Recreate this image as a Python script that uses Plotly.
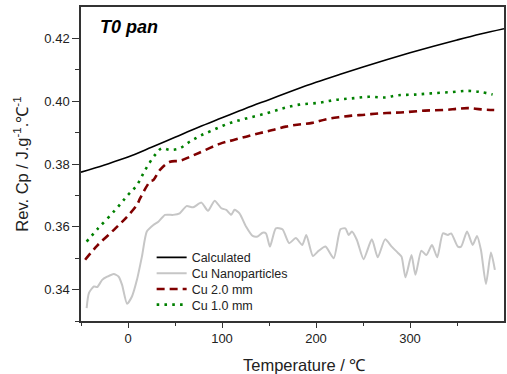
import plotly.graph_objects as go

# Calculated
calc_x = [-50, -25, 0, 25, 50, 75, 100, 125, 150, 175, 200, 225, 250, 275, 300, 325, 350, 375, 400]
calc_y = [0.3774, 0.3797, 0.3822, 0.3853, 0.3885, 0.3917, 0.3947, 0.3977, 0.4005, 0.4033, 0.4060,
          0.4085, 0.4109, 0.4132, 0.4154, 0.4175, 0.4195, 0.4214, 0.4231]

# Cu Nanoparticles
nano_x = [-44, -41.6, -36.3, -32.7, -27.5, -22.2, -15.2, -9.9, -6.3, -1, 4.2, 9.5, 14.8, 20, 27, 32.3,
          39.4, 48, 55, 62.3, 69.3, 78.1, 85.1, 92.2, 99.3, 104.5, 109.8, 113.3, 118.6, 125.7, 132.6,
          137.9, 143.2, 146.8, 151, 157.3, 164.3, 171.4, 178.5, 185.4, 189.7, 196.7, 203, 210.1, 218.9,
          226, 231.3, 234.7, 238.2, 243.5, 250.6, 259.4, 265.7, 273.5, 280.5, 287.5, 291, 295.2, 301.6,
          305.8, 312.1, 317.4, 323.4, 329, 335, 340.3, 343.8, 350.9, 354.4, 360.7, 366.7, 371.3, 375.5,
          380.8, 386.1, 390.3]
nano_y = [0.3341, 0.3389, 0.3410, 0.3408, 0.3431, 0.3441, 0.3450, 0.3441, 0.3415, 0.3355, 0.3378,
          0.3431, 0.3505, 0.3585, 0.3606, 0.3616, 0.3638, 0.3638, 0.3643, 0.3666, 0.3662, 0.3677,
          0.3651, 0.3683, 0.3659, 0.3654, 0.3638, 0.3654, 0.3643, 0.3600, 0.3571, 0.3569, 0.3581,
          0.3579, 0.3537, 0.3595, 0.3592, 0.3548, 0.3564, 0.3542, 0.3574, 0.3507, 0.3524, 0.3537,
          0.3500, 0.3592, 0.3595, 0.3574, 0.3585, 0.3558, 0.3497, 0.3560, 0.3503, 0.3560, 0.3537,
          0.3516, 0.3505, 0.3439, 0.3510, 0.3447, 0.3524, 0.3510, 0.3542, 0.3503, 0.3579, 0.3574,
          0.3579, 0.3537, 0.3537, 0.3585, 0.3542, 0.3571, 0.3526, 0.3418, 0.3518, 0.3463]

# Cu 2.0 mm
cu2_x = [-45.6, -32.7, -13.4, -1, 9.5, 13, 23.5, 27, 34, 44.7, 55, 65.8, 76, 97.5, 111.5, 125.7, 139.7,
         153.8, 167.9, 182, 196, 210, 224, 238, 252, 266.4, 280.5, 294.6, 315.7, 336.8, 351, 361.5,
         375.5, 389.6]
cu2_y = [0.3495, 0.3540, 0.3595, 0.3632, 0.3670, 0.3691, 0.3744, 0.3749, 0.3781, 0.3807, 0.3810,
         0.3823, 0.3836, 0.3864, 0.3876, 0.3887, 0.3898, 0.3908, 0.3919, 0.3926, 0.3931, 0.3942,
         0.3949, 0.3954, 0.3957, 0.3961, 0.3963, 0.3965, 0.3970, 0.3972, 0.3976, 0.3978, 0.3974,
         0.3972]

# Cu 1.0 mm
cu1_x = [-44, -32.7, -13.4, -1, 9.5, 18.3, 28.8, 35.9, 44.7, 55, 65.8, 76.3, 90.4, 108, 125.7, 146.8,
         164.3, 182, 203, 220.7, 238.2, 255.9, 273.5, 287.5, 305, 322.7, 343.8, 361.5, 375.5, 387.9]
cu1_y = [0.3553, 0.3592, 0.3654, 0.3698, 0.3733, 0.3781, 0.3829, 0.3850, 0.3845, 0.3850, 0.3871,
         0.3889, 0.3908, 0.3930, 0.3945, 0.3961, 0.3977, 0.3989, 0.3995, 0.4004, 0.4009, 0.4014,
         0.4012, 0.4019, 0.4021, 0.4025, 0.4029, 0.4033, 0.4029, 0.4021]

x_ticks = [0, 100, 200, 300]
y_ticks = [0.34, 0.36, 0.38, 0.40, 0.42]

FONT = "Liberation Sans, Arial, sans-serif"

fig = go.Figure()
fig.add_trace(go.Scatter(x=calc_x, y=calc_y, mode="lines", name="Calculated", legend="legend",
                         line=dict(color="black", width=1.6, shape="spline")))
fig.add_trace(go.Scatter(x=nano_x, y=nano_y, mode="lines", name="Cu Nanoparticles", legend="legend2",
                         line=dict(color="#c6c6c6", width=2, shape="spline", smoothing=0.6)))
fig.add_trace(go.Scatter(x=cu2_x, y=cu2_y, mode="lines", name="Cu 2.0 mm", legend="legend3",
                         line=dict(color="#800000", width=2.6, dash="8px,5px", shape="spline")))
fig.add_trace(go.Scatter(x=cu1_x, y=cu1_y, mode="lines", name="Cu 1.0 mm", legend="legend4",
                         line=dict(color="#008000", width=2.6, dash="2.6px,5.2px", shape="spline")))


def leg(yc):
    return dict(x=0.167, y=(321 - yc) / 314, xanchor="left", yanchor="middle",
                bgcolor="rgba(0,0,0,0)", font=dict(size=12.5, color="#222"), itemwidth=30)


fig.update_layout(
    width=507, height=374,
    margin=dict(l=81, r=1, t=7, b=53),
    paper_bgcolor="white", plot_bgcolor="white",
    font=dict(family=FONT, color="#222", size=13),
    showlegend=True,
    legend=leg(257.7), legend2=leg(273.7), legend3=leg(289.3), legend4=leg(305),
    annotations=[
        dict(text="<b><i>T0 pan</i></b>", x=0.04, y=0.975, xref="paper", yref="paper",
             xanchor="left", yanchor="top", showarrow=False, font=dict(size=18, color="black")),
        dict(text="Temperature / ℃", x=0.529, y=-0.105, xref="paper", yref="paper",
             xanchor="center", yanchor="top", showarrow=False, font=dict(size=16.5, color="#222")),
    ],
)

fig.update_xaxes(range=[-50, 400], tickvals=x_ticks, ticktext=[str(v) for v in x_ticks],
                 showgrid=False, zeroline=False,
                 showline=True, linecolor="#333", linewidth=1.5, mirror=True,
                 ticks="outside", ticklen=5, tickwidth=1.2, tickcolor="#333",
                 minor=dict(tickvals=[-50, 50, 150, 250, 350], ticks="outside", ticklen=3,
                            tickwidth=1.2, tickcolor="#333", showgrid=False),
                 tickfont=dict(size=13))
fig.update_yaxes(range=[0.33, 0.43], tickvals=y_ticks, ticktext=["%.2f" % v for v in y_ticks],
                 showgrid=False, zeroline=False,
                 showline=True, linecolor="#333", linewidth=1.5, mirror=True,
                 ticks="outside", ticklen=7, tickwidth=1.2, tickcolor="#333",
                 minor=dict(tickvals=[0.33, 0.35, 0.37, 0.39, 0.41], ticks="outside", ticklen=4,
                            tickwidth=1.2, tickcolor="#333", showgrid=False),
                 tickfont=dict(size=13),
                 title=dict(text="Rev. Cp / J.g<sup>-1</sup>.℃<sup>-1</sup>",
                            font=dict(size=16.5, color="#222"), standoff=12))

fig.write_html("out.html", config={"displayModeBar": False},
               post_script="document.body.style.margin='0px';")
